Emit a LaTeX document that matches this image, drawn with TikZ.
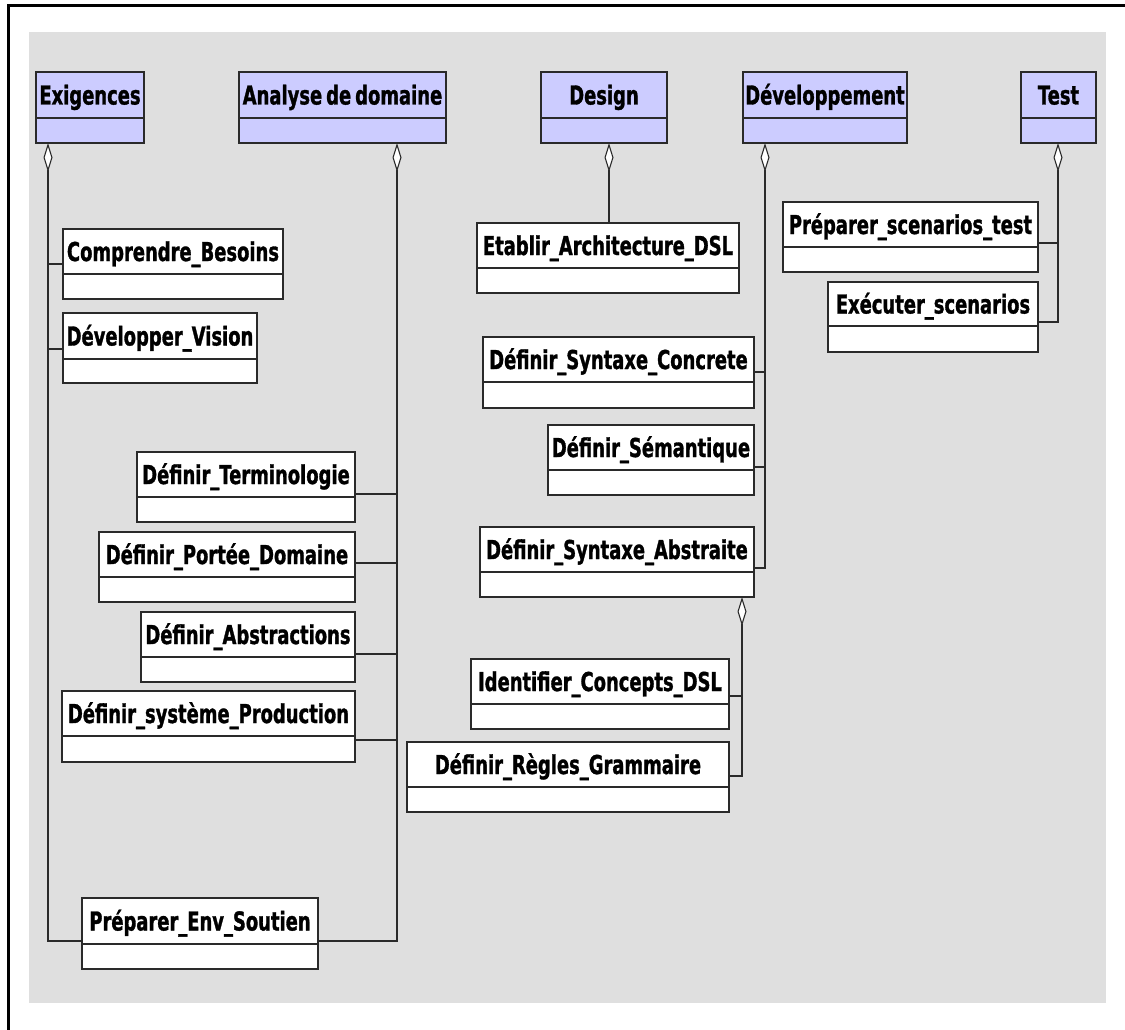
\documentclass[tikz,border=0pt]{standalone}
\usepackage{fontspec}
\usetikzlibrary{arrows.meta}
\newfontfamily\umlfont[FakeStretch=0.69, FakeBold=1.2]{DejaVu Sans}

\definecolor{panel}{HTML}{DFDFDF}
\definecolor{phase}{HTML}{CCCCFF}
\definecolor{edge}{HTML}{2A2A2A}

\tikzset{
  boxbase/.style={draw=edge, line width=1.3pt, inner sep=0pt, outer sep=0pt,
    anchor=north west, align=center,
    font=\umlfont\bfseries\fontsize{26}{30}\selectfont,
    text height=19pt, text depth=0pt},
  hdr/.style={boxbase, fill=phase},
  cls/.style={boxbase, fill=white},
  link/.style={draw=edge, line width=1.3pt},
  agg/.style={link, {Diamond[width=9pt, length=29pt, fill=white, line width=1.1pt]}-}
}

% \uml{style}{name}{x1}{y1}{x2}{ydivider}{y2}{title}
\newcommand\uml[8]{%
  \node[#1, minimum width={#5-#3}, minimum height={#6-#4}] (#2) at (#3,#4) {#8};
  \node[#1, minimum width={#5-#3}, minimum height={#7-#6}] (#2-b) at (#2.south west) {};
}

\begin{document}
\begin{tikzpicture}[x=1pt, y=-1pt]
\useasboundingbox (0,0) rectangle (1125,1030);
\fill[panel] (29,32) rectangle (1106,1003);
\draw[line width=2.7pt] (8.7,1030) -- (8.7,5.3) -- (1125,5.3);

% phases
\uml{hdr}{exi}{36}{72}{144}{118}{143}{Exigences}
\uml{hdr}{ana}{239}{72}{446}{118}{143}{\spaceskip=4pt Analyse de domaine}
\uml{hdr}{des}{541}{72}{667}{118}{143}{Design}
\uml{hdr}{dev}{743}{72}{907}{118}{143}{Développement}
\uml{hdr}{tst}{1021}{72}{1096}{118}{143}{Test}

% activities
\uml{cls}{cb}{63}{229}{283}{274}{299}{Comprendre\_Besoins}
\uml{cls}{dv}{63}{313}{257}{359}{383}{Développer\_Vision}
\uml{cls}{pes}{82}{898}{318}{944}{969}{Préparer\_Env\_Soutien}
\uml{cls}{dt}{137}{452}{355}{497}{522}{Définir\_Terminologie}
\uml{cls}{dp}{99}{532}{355}{577}{602}{Définir\_Portée\_Domaine}
\uml{cls}{da}{141}{612}{355}{657}{682}{Définir\_Abstractions}
\uml{cls}{dsp}{62}{691}{355}{736}{762}{Définir\_système\_Production}
\uml{cls}{ead}{477}{223}{739}{268}{293}{Etablir\_Architecture\_DSL}
\uml{cls}{dsc}{483}{337}{754}{382}{408}{Définir\_Syntaxe\_Concrete}
\uml{cls}{dsm}{548}{425}{754}{470}{495}{Définir\_Sémantique}
\uml{cls}{dsa}{480}{527}{754}{572}{597}{Définir\_Syntaxe\_Abstraite}
\uml{cls}{icd}{471}{659}{729}{704}{729}{Identifier\_Concepts\_DSL}
\uml{cls}{drg}{407}{742}{729}{787}{812}{Définir\_Règles\_Grammaire}
\uml{cls}{pst}{783}{202}{1038}{247}{272}{Préparer\_scenarios\_test}
\uml{cls}{exs}{828}{282}{1038}{326}{352}{Exécuter\_scenarios}

% aggregation buses under each owner
\coordinate (exiBus) at ([xshift=12pt]exi-b.south west);
\coordinate (anaBus) at ([xshift=158pt]ana-b.south west);
\coordinate (desBus) at ([xshift=68pt]des-b.south west);
\coordinate (devBus) at ([xshift=22pt]dev-b.south west);
\coordinate (tstBus) at ([xshift=37pt]tst-b.south west);
\coordinate (dsaBus) at ([xshift=262pt]dsa-b.south west);

% attachment points on the activities
\coordinate (cbA)  at ([yshift=-35pt]cb.north west);
\coordinate (dvA)  at ([yshift=-36pt]dv.north west);
\coordinate (pesW) at ([yshift=-43pt]pes.north west);
\coordinate (pesE) at ([yshift=-43pt]pes.north east);
\coordinate (dtA)  at ([yshift=-42pt]dt.north east);
\coordinate (dpA)  at ([yshift=-31pt]dp.north east);
\coordinate (daA)  at ([yshift=-42pt]da.north east);
\coordinate (dspA) at ([yshift=-49pt]dsp.north east);
\coordinate (dscA) at ([yshift=-35pt]dsc.north east);
\coordinate (dsmA) at ([yshift=-42pt]dsm.north east);
\coordinate (dsaA) at ([yshift=-41pt]dsa.north east);
\coordinate (icdA) at ([yshift=-37pt]icd.north east);
\coordinate (drgA) at ([yshift=-34pt]drg.north east);
\coordinate (pstA) at ([yshift=-41pt]pst.north east);
\coordinate (exsA) at ([yshift=-40pt]exs.north east);

% Exigences
\draw[agg] (exiBus) |- (pesW);
\draw[link] (cbA) -- (cbA -| exiBus);
\draw[link] (dvA) -- (dvA -| exiBus);

% Analyse de domaine
\draw[agg] (anaBus) |- (pesE);
\draw[link] (dtA) -- (dtA -| anaBus);
\draw[link] (dpA) -- (dpA -| anaBus);
\draw[link] (daA) -- (daA -| anaBus);
\draw[link] (dspA) -- (dspA -| anaBus);

% Design
\draw[agg] (desBus) -- (desBus |- ead.north);

% Developpement
\draw[agg] (devBus) |- (dsaA);
\draw[link] (dscA) -- (dscA -| devBus);
\draw[link] (dsmA) -- (dsmA -| devBus);

% Syntaxe abstraite
\draw[agg] (dsaBus) |- (drgA);
\draw[link] (icdA) -- (icdA -| dsaBus);

% Test
\draw[agg] (tstBus) |- (exsA);
\draw[link] (pstA) -- (pstA -| tstBus);
\end{tikzpicture}
\end{document}
